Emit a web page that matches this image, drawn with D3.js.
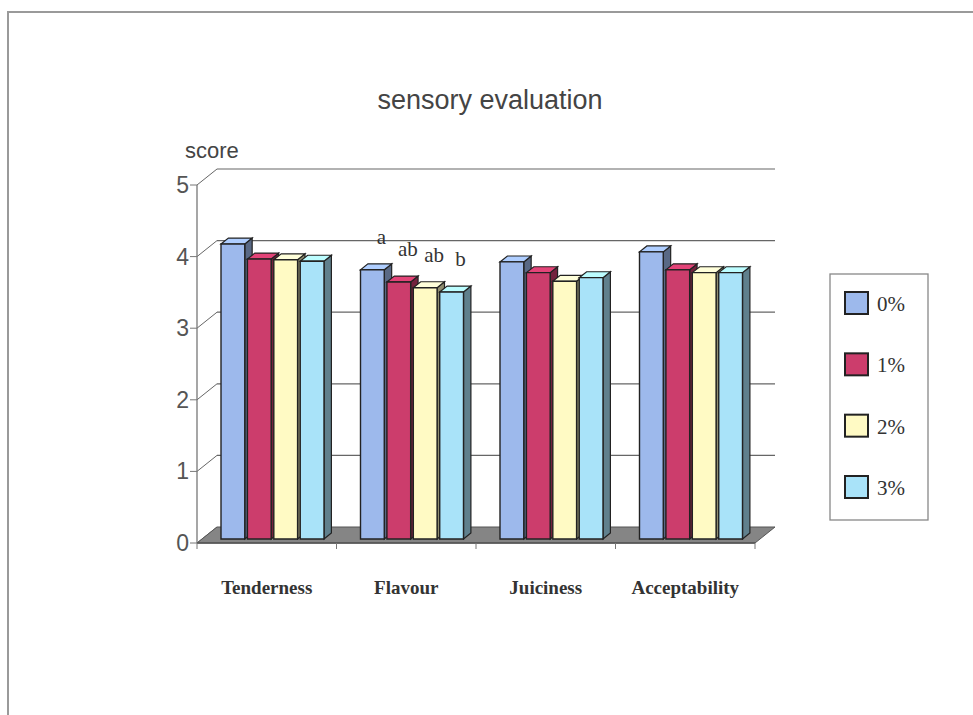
<!DOCTYPE html>
<html>
<head>
<meta charset="utf-8">
<script src="https://cdnjs.cloudflare.com/ajax/libs/d3/7.8.5/d3.min.js"></script>
<style>
  body { margin: 0; background: #fff; }
  svg { display: block; }
</style>
</head>
<body>
<div id="container"></div>
<script>
// data
var categories = ["Tenderness", "Flavour", "Juiciness", "Acceptability"];
var series = ["0%", "1%", "2%", "3%"];
var colors = ["#9db9ec", "#cc3d6c", "#fffac4", "#a9e3f9"];
var s0 = [4.12, 3.76, 3.87, 4.01];
var s1 = [3.91, 3.59, 3.72, 3.76];
var s2 = [3.90, 3.51, 3.60, 3.72];
var s3 = [3.88, 3.45, 3.65, 3.72];
var flavourLetters = ["a", "ab", "ab", "b"];
var yTicks = [0, 1, 2, 3, 4, 5];

var values = [s0, s1, s2, s3];

(function()
{
	var W = 973, H = 715;
	var svg = d3.select("#container").append("svg")
		.attr("width", W)
		.attr("height", H);

	// frame of the scanned chart
	svg.append("rect")
		.attr("x", 8).attr("y", 12)
		.attr("width", W).attr("height", H)
		.attr("fill", "none")
		.attr("stroke", "#9a9a9a")
		.attr("stroke-width", 2);

	// scales
	var x0 = d3.scaleBand().domain(categories).range([197, 755]);
	var x1 = d3.scaleBand().domain(series).range([19, 122]).paddingInner(0.1);
	var y = d3.scaleLinear().domain([0, 5]).range([543, 185]);

	var DX = 20, DY = -16;       // full depth of the floor
	var f0 = 0.25, f1 = 0.62;    // depth of the bars

	function pt(x, v, f) { return [x + DX * f, y(v) + DY * f]; }
	function poly(pts) { return pts.map(function(p){ return p.join(","); }).join(" "); }

	var xL = x0.range()[0], xR = x0.range()[1];

	// back wall gridlines
	svg.selectAll(".grid").data(yTicks.filter(function(d){ return d > 0; }))
		.enter().append("line")
		.attr("x1", xL + DX).attr("x2", xR + DX)
		.attr("y1", function(d){ return y(d) + DY; })
		.attr("y2", function(d){ return y(d) + DY; })
		.style("stroke", "#666")
		.style("stroke-width", 1.2);

	// side wall diagonals
	svg.selectAll(".diag").data(yTicks)
		.enter().append("line")
		.attr("x1", xL).attr("x2", xL + DX)
		.attr("y1", function(d){ return y(d); })
		.attr("y2", function(d){ return y(d) + DY; })
		.style("stroke", "#666")
		.style("stroke-width", 1);

	// floor
	svg.append("polygon")
		.attr("points", poly([pt(xL, 0, 0), pt(xR, 0, 0), pt(xR, 0, 1), pt(xL, 0, 1)]))
		.attr("fill", "#858585")
		.attr("stroke", "#555")
		.attr("stroke-width", 1);

	// vertical axis
	svg.append("line")
		.attr("x1", xL).attr("x2", xL)
		.attr("y1", y(5)).attr("y2", y(0))
		.style("stroke", "#777").style("stroke-width", 1.3);
	svg.selectAll(".ytick").data(yTicks)
		.enter().append("line")
		.attr("x1", xL - 7).attr("x2", xL)
		.attr("y1", function(d){ return y(d); })
		.attr("y2", function(d){ return y(d); })
		.style("stroke", "#777");
	svg.selectAll(".ylab").data(yTicks)
		.enter().append("text")
		.attr("x", xL - 8)
		.attr("y", function(d){ return y(d) + 8; })
		.attr("text-anchor", "end")
		.style("font-family", "Liberation Sans, Arial, sans-serif")
		.style("font-size", "23px")
		.style("fill", "#555")
		.text(function(d){ return d; });

	// horizontal axis
	svg.append("line")
		.attr("x1", xL).attr("x2", xR)
		.attr("y1", y(0)).attr("y2", y(0))
		.style("stroke", "#555").style("stroke-width", 1.3);
	var bounds = categories.map(function(c){ return x0(c); }).concat([xR]);
	svg.selectAll(".xtick").data(bounds)
		.enter().append("line")
		.attr("x1", function(d){ return d; }).attr("x2", function(d){ return d; })
		.attr("y1", y(0)).attr("y2", y(0) + 6)
		.style("stroke", "#777");

	// bars, left to right
	categories.forEach(function(c, i)
	{
		series.forEach(function(s, j)
		{
			var v = values[j][i];
			var xa = x0(c) + x1(s), xb = xa + x1.bandwidth();
			var col = d3.color(colors[j]);
			var g = svg.append("g");
			// right side
			g.append("polygon")
				.attr("points", poly([pt(xb, 0, f0), pt(xb, 0, f1), pt(xb, v, f1), pt(xb, v, f0)]))
				.attr("fill", col.darker(1.6))
				.attr("stroke", "#222").attr("stroke-width", 1.2);
			// top
			g.append("polygon")
				.attr("points", poly([pt(xa, v, f0), pt(xb, v, f0), pt(xb, v, f1), pt(xa, v, f1)]))
				.attr("fill", col.brighter(0.3))
				.attr("stroke", "#222").attr("stroke-width", 1.2);
			// front
			g.append("polygon")
				.attr("points", poly([pt(xa, 0, f0), pt(xb, 0, f0), pt(xb, v, f0), pt(xa, v, f0)]))
				.attr("fill", col)
				.attr("stroke", "#222").attr("stroke-width", 1.4);
		});
	});

	// significance letters over flavour
	svg.selectAll(".sig").data(flavourLetters)
		.enter().append("text")
		.attr("x", function(d, j){ return x0("Flavour") + x1(series[j]) + x1.bandwidth() / 2 + 14; })
		.attr("y", function(d, j){ return pt(0, values[j][1], f0)[1] - 26; })
		.attr("text-anchor", "middle")
		.style("font-family", "Liberation Serif, Times New Roman, serif")
		.style("font-size", "21px")
		.style("fill", "#333")
		.text(function(d){ return d; });

	// category labels
	svg.selectAll(".cat").data(categories)
		.enter().append("text")
		.attr("x", function(d){ return x0(d) + x0.bandwidth() / 2; })
		.attr("y", 594)
		.attr("text-anchor", "middle")
		.style("font-family", "Liberation Serif, Times New Roman, serif")
		.style("font-weight", "bold")
		.style("font-size", "19px")
		.style("fill", "#333")
		.text(function(d){ return d; });

	// title and axis name
	svg.append("text")
		.attr("x", 490).attr("y", 109)
		.attr("text-anchor", "middle")
		.style("font-family", "Liberation Sans, Arial, sans-serif")
		.style("font-size", "27px")
		.style("fill", "#444")
		.text("sensory evaluation");
	svg.append("text")
		.attr("x", 185).attr("y", 158)
		.style("font-family", "Liberation Sans, Arial, sans-serif")
		.style("font-size", "22px")
		.style("fill", "#444")
		.text("score");

	// legend
	var ly = d3.scalePoint().domain(series).range([303, 487]);
	svg.append("rect")
		.attr("x", 830).attr("y", 274)
		.attr("width", 98).attr("height", 246)
		.attr("fill", "#fff")
		.attr("stroke", "#888").attr("stroke-width", 1.3);
	var items = svg.selectAll(".leg").data(series).enter().append("g");
	items.append("rect")
		.attr("x", 845)
		.attr("y", function(d){ return ly(d) - 11; })
		.attr("width", 23).attr("height", 22)
		.attr("fill", function(d, j){ return colors[j]; })
		.attr("stroke", "#222").attr("stroke-width", 2);
	items.append("text")
		.attr("x", 877)
		.attr("y", function(d){ return ly(d) + 8; })
		.style("font-family", "Liberation Serif, Times New Roman, serif")
		.style("font-size", "21px")
		.style("fill", "#333")
		.text(function(d){ return d; });
})();
</script>
</body>
</html>
